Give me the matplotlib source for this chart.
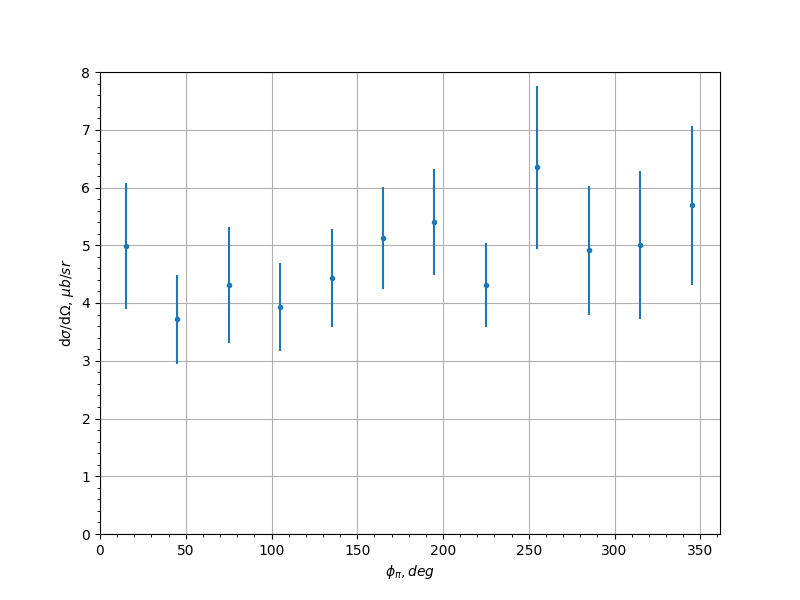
import matplotlib
matplotlib.use("Agg")
import matplotlib.pyplot as plt
from matplotlib.ticker import MultipleLocator

# phi bins and cross section with errors
phi = [15, 45, 75, 105, 135, 165, 195, 225, 255, 285, 315, 345]
xsec = [4.98, 3.72, 4.31, 3.93, 4.43, 5.13, 5.40, 4.31, 6.35, 4.91, 5.00, 5.69]
err = [1.09, 0.77, 1.00, 0.76, 0.85, 0.88, 0.92, 0.73, 1.41, 1.12, 1.28, 1.37]

fig, ax = plt.subplots(figsize=(8, 6), dpi=100)
ax.errorbar(phi, xsec, yerr=err, fmt='.', color='#1f77b4', elinewidth=1.5)

ax.set_xlim(left=0)
ax.set_ylim(0, 8)
ax.xaxis.set_minor_locator(MultipleLocator(10))
ax.yaxis.set_minor_locator(MultipleLocator(0.2))
ax.grid(True, which='major')

ax.set_xlabel(r'$\phi_{\pi}, deg$')
ax.set_ylabel(r'd$\sigma$/d$\Omega$, $\mu b/sr$')

fig.savefig("out.png")
